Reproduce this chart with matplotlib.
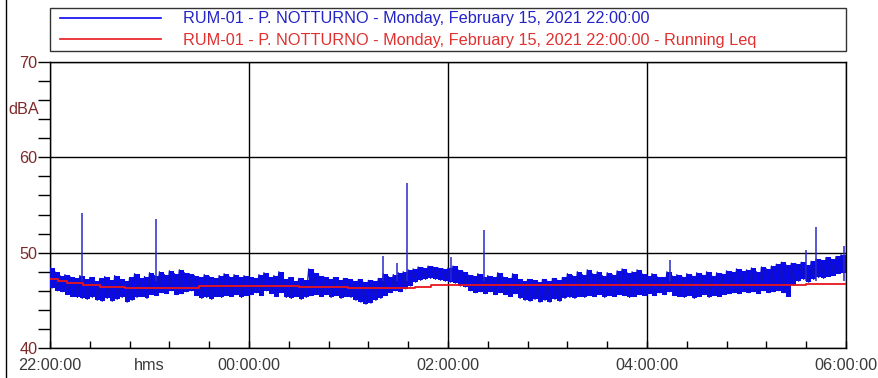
import matplotlib
matplotlib.use("Agg")
import matplotlib.pyplot as plt
import matplotlib.transforms as mtrans
import numpy as np
from matplotlib.legend_handler import HandlerLine2D
from matplotlib.lines import Line2D
from matplotlib.ticker import MultipleLocator, FixedLocator

# time axis: minutes from 22:00, one bin every 3 min (22:00 -> 06:00)
BIN_MIN = 3

# band: upper / lower edge of the noise per 3-min bin [dBA]
lvl_hi = [
    # 22:00 - 00:00
    48.4, 48.0, 47.6, 47.7, 47.5, 47.3, 47.6, 47.2, 47.4, 47.0,
    47.3, 47.5, 47.1, 47.6, 47.2, 47.0, 47.4, 47.8, 47.3, 47.5,
    47.9, 47.6, 48.0, 47.7, 48.1, 47.8, 48.2, 47.9, 47.8, 47.6,
    47.4, 47.7, 47.5, 47.3, 47.6, 47.8, 47.5, 47.7, 47.4, 47.6,
    # 00:00 - 02:00
    47.5, 47.3, 47.7, 47.9, 47.4, 47.6, 48.0, 47.2, 47.4, 47.0,
    47.3, 47.1, 48.3, 47.9, 47.6, 47.5, 47.2, 47.4, 47.1, 47.3,
    47.2, 47.0, 47.2, 46.9, 47.1, 47.0, 47.3, 47.8, 47.5, 47.7,
    47.9, 48.0, 48.2, 48.3, 48.5, 48.4, 48.6, 48.5, 48.4, 48.3,
    # 02:00 - 04:00
    48.4, 48.6, 48.2, 48.0, 47.7, 47.6, 47.8, 47.5, 47.6, 47.4,
    47.9, 47.5, 47.3, 47.8, 47.2, 47.0, 47.2, 47.1, 46.9, 47.2,
    47.0, 47.3, 47.1, 47.4, 47.8, 47.6, 48.0, 47.7, 48.2, 47.8,
    48.0, 47.6, 47.9, 47.7, 48.1, 48.3, 47.9, 48.0, 48.2, 47.8,
    # 04:00 - 06:00
    47.6, 47.8, 47.5, 47.4, 48.0, 47.6, 47.7, 47.5, 47.8, 47.6,
    47.9, 47.7, 48.0, 47.6, 47.9, 47.8, 48.1, 48.0, 48.3, 48.1,
    48.2, 48.4, 48.0, 48.5, 48.3, 48.6, 48.8, 49.0, 48.7, 48.9,
    48.8, 49.0, 48.7, 49.1, 49.3, 49.2, 49.5, 49.3, 49.6, 49.8,
]
lvl_lo = [
    # 22:00 - 00:00
    46.3, 46.0, 45.9, 45.6, 45.4, 45.3, 45.2, 45.1, 45.3, 45.0,
    44.9, 45.2, 44.9, 45.1, 45.3, 44.8, 45.0, 45.3, 45.4, 45.2,
    45.6, 45.5, 45.8, 45.7, 46.0, 45.6, 45.7, 45.9, 46.0, 45.5,
    45.2, 45.3, 45.1, 45.4, 45.3, 45.5, 45.4, 45.6, 45.3, 45.5,
    # 00:00 - 02:00
    45.6, 45.8, 45.5, 46.0, 45.7, 45.4, 45.8, 45.3, 45.2, 45.4,
    45.1, 45.3, 45.5, 45.6, 45.4, 45.6, 45.3, 45.5, 45.2, 45.4,
    45.3, 45.0, 44.8, 44.6, 44.7, 45.0, 45.2, 45.5, 45.8, 46.0,
    45.9, 46.2, 46.5, 46.9, 47.1, 47.2, 47.3, 47.2, 47.1, 47.0,
    # 02:00 - 04:00
    46.9, 46.8, 46.5, 46.4, 46.0, 45.8, 45.9, 45.7, 45.9, 45.6,
    45.8, 45.6, 45.4, 45.7, 45.2, 45.0, 44.9, 45.1, 44.8, 45.0,
    44.8, 45.1, 44.9, 45.2, 45.3, 45.2, 45.4, 45.3, 45.5, 45.4,
    45.6, 45.3, 45.5, 45.4, 45.6, 45.5, 45.3, 45.4, 45.6, 45.5,
    # 04:00 - 06:00
    45.7, 45.5, 45.8, 45.6, 45.9, 45.5, 45.4, 45.3, 45.5, 45.2,
    45.4, 45.6, 45.3, 45.5, 45.4, 45.6, 45.7, 45.8, 45.7, 45.9,
    45.8, 45.9, 45.7, 46.0, 45.8, 45.9, 46.0, 45.8, 45.4, 46.6,
    47.0, 47.2, 46.9, 47.2, 47.4, 47.3, 47.5, 47.6, 47.8, 47.9,
]

# isolated peaks: minutes after 22:00, level [dBA]
spike_min = [19, 64, 201, 209, 215, 242, 262, 374, 456, 462, 479]
spike_db = [54.2, 53.5, 49.7, 48.9, 57.3, 49.5, 52.4, 49.2, 50.3, 52.7, 50.7]

# running Leq (red), minutes after 22:00
leq_min = [0, 5, 10, 20, 30, 45, 90, 120, 150, 180, 200, 220, 230, 240, 456, 480]
leq_db = [47.2, 47.0, 46.8, 46.6, 46.4, 46.3, 46.5, 46.5, 46.4, 46.3, 46.3, 46.4, 46.6,
          46.6, 46.75, 46.75]

x_major = [0, 120, 240, 360, 480]
x_labels = ["22:00:00", "00:00:00", "02:00:00", "04:00:00", "06:00:00"]
y_major = [40, 50, 60, 70]

legend_txt = "RUM-01 - P. NOTTURNO - Monday, February 15, 2021 22:00:00"

BLUE = "#0808f2"
RED = "#e8161c"
MAROON = "#7e2a2a"
GREY = "#3a3a3a"
FS = 11.7

plt.rcParams["font.family"] = ["Liberation Sans", "DejaVu Sans"]

fig = plt.figure(figsize=(8.79, 3.78), dpi=100)
ax = fig.add_axes([50 / 879, 30 / 378, 796 / 879, 286 / 378])

t0 = np.arange(len(lvl_hi)) * BIN_MIN

#solid core of the noise band + zigzag texture on top
ax.fill_between(np.append(t0, 480), np.append(lvl_lo, lvl_lo[-1]),
                np.append(lvl_hi, lvl_hi[-1]), step="post", color=BLUE,
                lw=0, zorder=3)
tz = np.column_stack([t0, t0 + BIN_MIN / 2]).ravel()
vz = np.column_stack([lvl_hi, lvl_lo]).ravel()
ax.plot(tz, vz, color="#1010c4", lw=0.9, zorder=3)
ax.vlines(spike_min, 47.0, spike_db, color="#2a2ac8", lw=1.1, zorder=3)

ax.plot(leq_min, leq_db, color=RED, lw=1.3, drawstyle="steps-post", zorder=4)

ax.set_xlim(0, 480)
ax.set_ylim(40, 70)
ax.xaxis.set_major_locator(FixedLocator(x_major))
ax.set_xticklabels(x_labels)
ax.xaxis.set_minor_locator(MultipleLocator(24))
ax.yaxis.set_major_locator(FixedLocator(y_major))
ax.yaxis.set_minor_locator(MultipleLocator(2))
ax.grid(True, which="major", color="black", lw=1.0)
ax.set_axisbelow(True)
for s in ax.spines.values():
    s.set_color("black")
    s.set_linewidth(1.0)

XPAD = 7
ax.tick_params(axis="x", which="both", direction="in", length=5, width=1,
               labelsize=FS, labelcolor=GREY, pad=XPAD)
ax.tick_params(axis="y", which="both", direction="out", length=9, width=1,
               labelsize=FS, labelcolor=MAROON, pad=0)

# unit label on the y side, in line with the tick labels
dba_tr = mtrans.blended_transform_factory(
    mtrans.offset_copy(ax.transAxes, fig=fig, x=-11, units="dots"), ax.transData)
ax.text(0, 65, "dBA", transform=dba_tr, ha="right", va="center",
        fontsize=FS, color=MAROON)
ax.annotate("hms", xy=(60, 0), xycoords=ax.get_xaxis_transform(),
            xytext=(0, -XPAD), textcoords="offset points", ha="center",
            va="top", fontsize=FS, color=GREY)

#legend box above the plot
handles = [Line2D([], [], color=BLUE, lw=1.2), Line2D([], [], color=RED, lw=1.2)]
labels = [legend_txt, legend_txt + " - Running Leq"]
leg = fig.legend(handles, labels, loc="upper left",
                 bbox_to_anchor=(50 / 879, 1 - 53 / 378, 796 / 879, 45 / 378),
                 mode="expand", borderaxespad=0, fontsize=FS, frameon=True,
                 fancybox=False, edgecolor="black", handlelength=6.63,
                 handletextpad=1.35, labelspacing=0.39, borderpad=0.2,
                 handler_map={Line2D: HandlerLine2D(xpad=0.42)})
leg.get_frame().set_linewidth(1.0)
for txt, c in zip(leg.get_texts(), ["#2323c8", "#e03030"]):
    txt.set_color(c)

fig.add_artist(Line2D([6 / 879, 6 / 879], [0, 1], transform=fig.transFigure,
                      color="black", lw=1.0))

fig.savefig("out.png", dpi=100)
